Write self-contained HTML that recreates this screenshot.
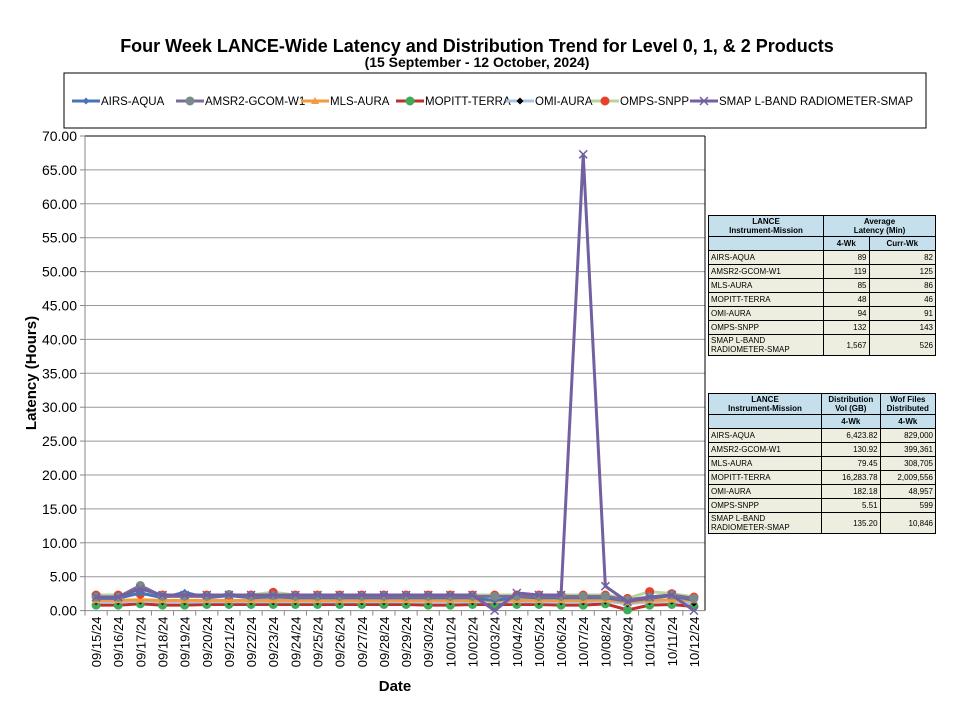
<!DOCTYPE html>
<html><head><meta charset="utf-8"><style>
body{margin:0;background:#fff;font-family:"Liberation Sans",sans-serif;}
#wrap{position:relative;width:955px;height:712px;overflow:hidden;}
table{position:absolute;border-collapse:collapse;font-size:8px;font-family:"Liberation Sans",sans-serif;}
td{border:1px solid #000;padding:1px 2px;height:11px;background:#eeeee0;}
td.n{text-align:right;}
.h td{background:#c5e0ec;font-weight:bold;text-align:center;}
</style></head><body><div id="wrap">
<svg id="chart" width="955" height="712" style="position:absolute;left:0;top:0"></svg>
<table style="left:708px;top:215px;width:228px">
<tr class="h"><td style="width:110px">LANCE<br>Instrument-Mission</td><td colspan="2">Average<br>Latency (Min)</td></tr>
<tr class="h"><td></td><td>4-Wk</td><td>Curr-Wk</td></tr>
<tr><td>AIRS-AQUA</td><td class="n">89</td><td class="n">82</td></tr>
<tr><td>AMSR2-GCOM-W1</td><td class="n">119</td><td class="n">125</td></tr>
<tr><td>MLS-AURA</td><td class="n">85</td><td class="n">86</td></tr>
<tr><td>MOPITT-TERRA</td><td class="n">48</td><td class="n">46</td></tr>
<tr><td>OMI-AURA</td><td class="n">94</td><td class="n">91</td></tr>
<tr><td>OMPS-SNPP</td><td class="n">132</td><td class="n">143</td></tr>
<tr><td>SMAP L-BAND RADIOMETER-SMAP</td><td class="n">1,567</td><td class="n">526</td></tr>
</table>
<table style="left:708px;top:393px;width:228px">
<tr class="h"><td style="width:108px">LANCE<br>Instrument-Mission</td><td>Distribution<br>Vol (GB)</td><td>Wof Files<br>Distributed</td></tr>
<tr class="h"><td></td><td>4-Wk</td><td>4-Wk</td></tr>
<tr><td>AIRS-AQUA</td><td class="n">6,423.82</td><td class="n">829,000</td></tr>
<tr><td>AMSR2-GCOM-W1</td><td class="n">130.92</td><td class="n">399,361</td></tr>
<tr><td>MLS-AURA</td><td class="n">79.45</td><td class="n">308,705</td></tr>
<tr><td>MOPITT-TERRA</td><td class="n">16,283.78</td><td class="n">2,009,556</td></tr>
<tr><td>OMI-AURA</td><td class="n">182.18</td><td class="n">48,957</td></tr>
<tr><td>OMPS-SNPP</td><td class="n">5.51</td><td class="n">599</td></tr>
<tr><td>SMAP L-BAND RADIOMETER-SMAP</td><td class="n">135.20</td><td class="n">10,846</td></tr>
</table>
</div>
<script>
const dates=["09/15/24","09/16/24","09/17/24","09/18/24","09/19/24","09/20/24","09/21/24","09/22/24","09/23/24","09/24/24","09/25/24","09/26/24","09/27/24","09/28/24","09/29/24","09/30/24","10/01/24","10/02/24","10/03/24","10/04/24","10/05/24","10/06/24","10/07/24","10/08/24","10/09/24","10/10/24","10/11/24","10/12/24"];
const yTicks=[0,5,10,15,20,25,30,35,40,45,50,55,60,65,70];
const airs=[1.8,1.8,2.6,1.9,2.7,1.9,2.2,1.9,2.0,1.9,1.9,1.9,1.9,1.9,1.9,1.9,1.9,1.9,1.5,2.0,1.9,1.9,1.9,1.9,1.4,1.8,2.2,1.5];
const amsr2=[2.0,2.0,3.7,2.1,2.1,2.1,2.4,2.1,2.2,2.1,2.1,2.1,2.1,2.1,2.1,2.1,2.1,2.1,2.1,2.1,2.1,2.1,2.1,2.1,1.6,2.0,2.3,1.8];
const mls=[1.5,1.5,1.6,1.5,1.5,1.5,1.5,1.5,1.5,1.5,1.5,1.5,1.5,1.5,1.5,1.5,1.5,1.5,1.5,1.5,1.5,1.5,1.5,1.6,1.2,1.5,1.6,1.5];
const mopitt=[0.8,0.8,1.0,0.8,0.8,0.9,0.9,0.9,0.9,0.9,0.9,0.9,0.9,0.9,0.9,0.8,0.8,0.9,0.9,0.9,0.9,0.8,0.8,1.0,0.1,0.8,0.9,0.6];
const omi=[1.3,1.3,1.4,1.3,1.3,1.3,1.3,1.3,1.3,1.3,1.3,1.3,1.3,1.3,1.3,1.3,1.3,1.3,1.3,1.3,1.3,1.3,1.3,1.4,1.0,1.3,1.4,1.1];
const omps=[2.3,2.3,2.4,2.3,2.3,2.3,2.3,2.3,2.7,2.3,2.3,2.3,2.3,2.3,2.3,2.3,2.3,2.3,2.3,2.3,2.3,2.3,2.3,2.3,1.8,2.8,2.5,2.0];
const smap=[2.0,2.0,3.2,2.3,2.3,2.3,2.3,2.3,2.3,2.3,2.3,2.3,2.3,2.3,2.3,2.3,2.3,2.3,0.0,2.6,2.3,2.3,67.3,3.6,1.3,2.0,2.3,0.0];
const names=["AIRS-AQUA","AMSR2-GCOM-W1","MLS-AURA","MOPITT-TERRA","OMI-AURA","OMPS-SNPP","SMAP L-BAND RADIOMETER-SMAP"];
const svg=document.getElementById('chart');const NS="http://www.w3.org/2000/svg";
function mk(t,a,p){const e=document.createElementNS(NS,t);for(const k in a)e.setAttribute(k,a[k]);(p||svg).appendChild(e);return e;}
const L=85,R=705,T=136,B=610.6,yMax=70;
const y=v=>B-(v/yMax)*(B-T);
const x=i=>L+(i+0.5)*(R-L)/dates.length;
let t=mk('text',{x:477,y:52,'text-anchor':'middle','font-size':18,'font-weight':'bold'});t.textContent="Four Week LANCE-Wide Latency and Distribution Trend for Level 0, 1, & 2 Products";


t=mk('text',{x:477,y:67,'text-anchor':'middle','font-size':14,'font-weight':'bold'});t.textContent="(15  September    - 12  October,  2024)";


yTicks.forEach(v=>{
 if(v>0){const g=mk('line',{x1:L,x2:R,y1:y(v),y2:y(v),stroke:'#999','stroke-width':1});}
 mk('line',{x1:L-5,x2:L,y1:y(v),y2:y(v),stroke:'#888'});
 const tx=mk('text',{x:L-8,y:y(v)+5,'text-anchor':'end','font-size':14});tx.textContent=v.toFixed(2);
 
 
});
mk('line',{x1:L,x2:R,y1:T,y2:T,stroke:'#000'});mk('line',{x1:R,x2:R,y1:T,y2:B,stroke:'#000'});
mk('line',{x1:L,x2:L,y1:T,y2:B,stroke:'#888'});mk('line',{x1:L,x2:R,y1:B,y2:B,stroke:'#888'});
dates.forEach((d,i)=>{
 mk('line',{x1:L+i*(R-L)/dates.length,x2:L+i*(R-L)/dates.length,y1:B,y2:B+5,stroke:'#888'});
 const tx=mk('text',{transform:`translate(${x(i)+5},${B+6}) rotate(-90)`,'text-anchor':'end','font-size':13});tx.textContent=d;
 
 
});
t=mk('text',{x:395,y:691,'text-anchor':'middle','font-size':15,'font-weight':'bold'});t.textContent="Date";


t=mk('text',{transform:'translate(36,373) rotate(-90)','text-anchor':'middle','font-size':15,'font-weight':'bold'});t.textContent="Latency (Hours)";


const series=[[mopitt,'#c0302a','#3dab5a','circle',3],[omi,'#a9c4e4','#000','diamond',3],[mls,'#f39a3c','#f39a3c','tri',3],[omps,'#b9d59a','#e9402a','circle',3],[airs,'#4a73b5','#4a73b5','diamond',3],[amsr2,'#7a6c9a','#7a8a8a','circle',3],[smap,'#7360a0','#7360a0','x',3]];
function marker(tp,cx,cy,c,g){
 if(tp==='circle')mk('circle',{cx,cy,r:4.5,fill:c},g);
 else if(tp==='diamond')mk('polygon',{points:`${cx},${cy-3.5} ${cx+3.5},${cy} ${cx},${cy+3.5} ${cx-3.5},${cy}`,fill:c},g);
 else if(tp==='tri')mk('polygon',{points:`${cx},${cy-4} ${cx+4},${cy+3} ${cx-4},${cy+3}`,fill:c},g);
 else {mk('path',{d:`M${cx-4} ${cy-4}L${cx+4} ${cy+4}M${cx-4} ${cy+4}L${cx+4} ${cy-4}`,stroke:c,'stroke-width':1.5},g);}
}
series.forEach(([vals,lc,mc,tp,w],si)=>{
 const g=mk('g',{});
 
 
 mk('polyline',{points:vals.map((v,i)=>x(i)+','+y(v)).join(' '),fill:'none',stroke:lc,'stroke-width':w},g);
 vals.forEach((v,i)=>marker(tp,x(i),y(v),mc,g));
});
// legend
mk('rect',{x:64,y:73,width:862,height:55,fill:'#fff',stroke:'#000'});
const lg=[['#4a73b5','#4a73b5','diamond'],['#7a6c9a','#7a8a8a','circle'],['#f39a3c','#f39a3c','tri'],['#c0302a','#3dab5a','circle'],['#a9c4e4','#000','diamond'],['#b9d59a','#e9402a','circle'],['#7360a0','#7360a0','x']];
const lx=[72,176,301,396,506,591,690];
names.forEach((n,i)=>{
 const g=mk('g',{});
 
 
 mk('line',{x1:lx[i],x2:lx[i]+28,y1:101,y2:101,stroke:lg[i][0],'stroke-width':3},g);
 marker(lg[i][2],lx[i]+14,101,lg[i][1],g);
 const tx=mk('text',{x:lx[i]+29,y:105,'font-size':11.5},g);tx.textContent=n;
});
</script>
</body></html>
